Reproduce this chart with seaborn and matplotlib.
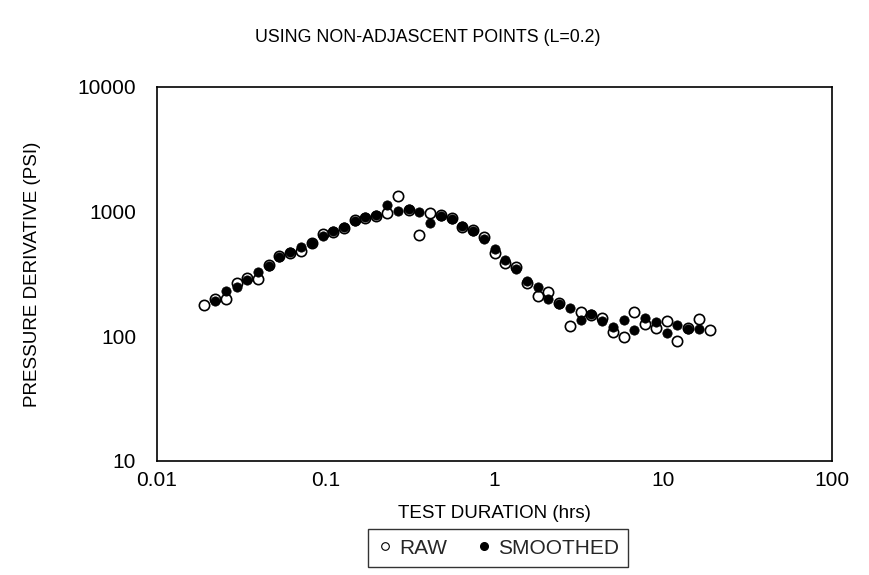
import matplotlib
matplotlib.use("Agg")
import matplotlib.pyplot as plt
import seaborn as sns
import pandas as pd
import numpy as np
from matplotlib.ticker import LogLocator, NullFormatter

# ---- data ----
test_duration_hrs = [0.0191, 0.0221, 0.0255, 0.0296, 0.0343, 0.0397, 0.0459, 0.0532,
                     0.0616, 0.0714, 0.0826, 0.0957, 0.111, 0.128, 0.149, 0.172,
                     0.199, 0.231, 0.267, 0.310, 0.359, 0.415, 0.481, 0.557,
                     0.645, 0.747, 0.865, 1.00, 1.16, 1.34, 1.55, 1.80,
                     2.08, 2.41, 2.80, 3.24, 3.75, 4.34, 5.03, 5.82,
                     6.74, 7.80, 9.04, 10.5, 12.1, 14.0, 16.3, 18.8]

raw = [179, 200, 200, 266, 292, 287, 372, 441,
       470, 484, 558, 658, 692, 745, 859, 885,
       930, 983, 1346, 1032, 650, 970, 941, 885,
       759, 713, 622, 470, 386, 362, 270, 212,
       226, 184, 120, 158, 149, 140, 109, 98,
       156, 126, 116, 133, 92, 116, 137, 113]

smoothed = [None, 193, 233, 247, 283, 327, 369, 436,
            478, 518, 565, 638, 704, 759, 848, 901,
            941, 1133, 1019, 1044, 1000, 807, 930, 874,
            768, 700, 600, 499, 410, 347, 278, 250,
            198, 181, 168, 134, 150, 133, 118, 134,
            113, 140, 131, 106, 123, 114, 114, None]

x_ticks = [0.01, 0.1, 1, 10, 100]
x_tick_labels = ["0.01", "0.1", "1", "10", "100"]
y_ticks = [10, 100, 1000, 10000]
y_tick_labels = ["10", "100", "1000", "10000"]

title = "USING NON-ADJASCENT POINTS (L=0.2)"
x_label = "TEST DURATION (hrs)"
y_label = "PRESSURE DERIVATIVE (PSI)"

# ---- build frames ----
df_raw = pd.DataFrame({"t": test_duration_hrs, "v": raw})
df_sm = pd.DataFrame({"t": test_duration_hrs, "v": smoothed}).dropna()

sns.set_theme(style="white")
plt.rcParams["font.family"] = ["Liberation Sans", "DejaVu Sans"]

fig = plt.figure(figsize=(8.69, 5.75), dpi=100)
ax = fig.add_axes([157/869, 1-461/575, (832-157)/869, (461-87)/575])

sns.scatterplot(data=df_raw, x="t", y="v", ax=ax, marker="o", s=55,
                facecolor="white", edgecolor="black", linewidth=1.2,
                label="RAW", zorder=2)
sns.scatterplot(data=df_sm, x="t", y="v", ax=ax, marker="o", s=45,
                color="black", edgecolor="black", linewidth=0.5,
                label="SMOOTHED", zorder=3)

ax.set_xscale("log")
ax.set_yscale("log")
ax.set_xlim(0.01, 100)
ax.set_ylim(10, 10000)
ax.set_xticks(x_ticks)
ax.set_xticklabels(x_tick_labels)
ax.set_yticks(y_ticks)
ax.set_yticklabels(y_tick_labels)
ax.xaxis.set_minor_locator(LogLocator(base=10, subs=np.arange(2, 10)))
ax.yaxis.set_minor_locator(LogLocator(base=10, subs=np.arange(2, 10)))
ax.xaxis.set_minor_formatter(NullFormatter())
ax.yaxis.set_minor_formatter(NullFormatter())

for sp in ax.spines.values():
    sp.set_visible(True)
    sp.set_color("black")
    sp.set_linewidth(1.2)

ax.tick_params(axis="both", which="major", direction="in", length=6, width=1,
               labelsize=15, colors="black")
ax.tick_params(axis="both", which="minor", direction="in", length=3.5, width=0.8,
               colors="black")
ax.tick_params(axis="y", which="major", pad=15)
ax.tick_params(axis="x", which="major", pad=7)

ax.set_xlabel(x_label, fontsize=13.5, color="black", va="center")
ax.xaxis.set_label_coords(0.5, (461-513)/374)
ax.set_ylabel(y_label, fontsize=13.5, color="black", va="center")
ax.yaxis.set_label_coords((33-157)/675, 0.5)

fig.text(428/869, 1-38/575, title, ha="center", va="center", fontsize=12.8, color="black")

ax.get_legend().remove()
handles = [
    plt.Line2D([], [], marker="o", linestyle="none", markersize=5.5,
               markerfacecolor="white", markeredgecolor="black", markeredgewidth=0.8),
    plt.Line2D([], [], marker="o", linestyle="none", markersize=5.5,
               markerfacecolor="black", markeredgecolor="black"),
]
leg = fig.legend(handles, ["RAW", "SMOOTHED"], loc="center",
                 bbox_to_anchor=(498/869, 1-548/575), ncol=2, frameon=True,
                 fancybox=False, edgecolor="black", fontsize=15,
                 handletextpad=0.25, columnspacing=1.4, handlelength=0.8,
                 borderpad=0.45, borderaxespad=0)
leg.get_frame().set_linewidth(1.0)

fig.savefig("out.png", dpi=100, facecolor="white")
